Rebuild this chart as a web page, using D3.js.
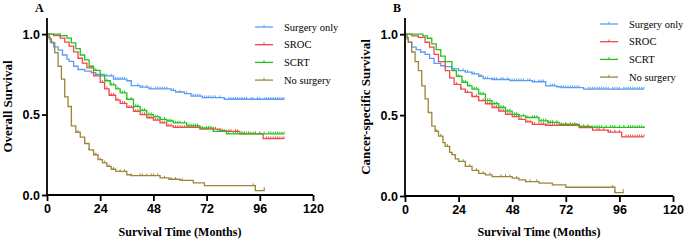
<!DOCTYPE html>
<html>
<head>
<meta charset="utf-8">
<script src="https://cdn.jsdelivr.net/npm/d3@7"></script>
<style>
  body { margin: 0; background: #fff; }
  svg { display: block; }
</style>
</head>
<body>
<div id="chart"></div>
<script>
// Kaplan-Meier knots [month, survival]
const groups = ["Surgery only", "SROC", "SCRT", "No surgery"];
const colors = ["#5a9cf5", "#f24848", "#22c320", "#9b8638"];
const xTicks = [0, 24, 48, 72, 96, 120];
const yTicks = [0.0, 0.5, 1.0];

// Panel A: overall survival
const osSurgery = [[0,1],[0.5,0.98],[1.5,0.95],[3,0.92],[5,0.9],[7,0.87],[9,0.845],[10,0.83],[12,0.8],[14,0.78],[17,0.77],[20,0.76],[22,0.75],[26,0.74],[30,0.72],[36,0.71],[38,0.68],[42,0.67],[46,0.66],[56,0.65],[58,0.64],[62,0.63],[65,0.615],[70,0.605],[80,0.595],[107,0.595]];
const osSroc = [[0,1],[3,0.99],[6,0.975],[8,0.95],[10,0.925],[12,0.89],[14,0.85],[16,0.82],[18,0.79],[21,0.74],[24,0.70],[26,0.66],[28,0.62],[31,0.59],[33,0.57],[36,0.545],[39,0.52],[42,0.5],[45,0.48],[48,0.465],[51,0.448],[54,0.43],[57,0.42],[69,0.41],[78,0.4],[81,0.395],[87,0.38],[97.5,0.35],[107,0.35]];
const osScrt = [[0,1],[6,0.99],[9,0.975],[11,0.945],[13,0.91],[15,0.87],[17,0.84],[19,0.8],[21,0.775],[24,0.74],[26,0.71],[28.5,0.685],[31,0.66],[33,0.635],[36,0.595],[39,0.55],[42,0.525],[45,0.5],[48,0.485],[51,0.47],[54,0.46],[57,0.448],[63,0.43],[69,0.415],[75,0.395],[81,0.38],[107,0.38]];
const osNone = [[0,1],[1,0.97],[2,0.945],[3.5,0.885],[5,0.8],[6.5,0.72],[8,0.61],[9.5,0.55],[11,0.43],[13,0.39],[15,0.36],[17,0.32],[19,0.28],[21,0.25],[23,0.22],[25,0.2],[27,0.178],[29,0.16],[31,0.147],[36,0.126],[38,0.12],[51,0.106],[55,0.098],[60,0.091],[66,0.075],[71,0.058],[94,0.027],[98,0.035]];

const osSurgeryCens = [27,29,31,32,33,34,35,41,43,45,47,49,50,51,52,53,54,57,60,63,66,67,68,69,71,72,73,74,75,76,78,82,83,84,85,86,87,88,89,90,92,93,95,96,98,99,100,101,102,103,104,105,106,107];
const osSrocCens = [20,22,25,27,29,30,32,34,35,37,38,40,41,43,44,46,47,49,50,52,53,55,56,58,59,60,61,62,63,64,65,66,67,68,70,71,72,73,75,76,78,79,82,83,85,86,88,89,90,91,93,94,96,99,100,101,102,103,104,105,106,107];
const osScrtCens = [22,24,26,27,29,30,32,34,35,36,38,40,41,43,44,46,47,49,50,51,53,54,55,56,58,59,60,62,63,64,65,66,67,68,70,72,73,74,77,79,80,82,84,85,86,88,89,91,92,94,96,98,100,101,102,103,104,105,106,107];
const osNoneCens = [14,17,19,22,24,26,28,30,33,35,38,42,43,45,47,48,50,53,56,58,61,93,94,98];

// Panel B: cancer-specific survival
const cssSurgery = [[0,1],[0.5,0.98],[1.5,0.95],[3,0.92],[5,0.905],[7,0.89],[9,0.875],[11,0.85],[13,0.82],[16,0.805],[18,0.8],[21,0.785],[24,0.775],[27,0.765],[30,0.755],[33,0.74],[35,0.725],[39,0.72],[47,0.713],[57,0.706],[63,0.68],[68,0.675],[70,0.67],[80,0.661],[107,0.661]];
const cssSroc = [[0,1],[3,0.99],[6,0.98],[9,0.95],[11,0.92],[13,0.875],[15,0.83],[18,0.775],[20,0.73],[22,0.69],[25,0.66],[27,0.64],[30,0.615],[33,0.59],[36,0.57],[39,0.547],[42,0.525],[45,0.505],[48,0.49],[51,0.474],[54,0.458],[57,0.443],[63,0.437],[78,0.422],[84,0.407],[91,0.395],[97,0.366],[107,0.366]];
const cssScrt = [[0,1],[8,0.99],[10,0.975],[12,0.94],[14,0.905],[16,0.865],[18,0.83],[21,0.775],[23,0.74],[25.5,0.703],[28,0.68],[30,0.661],[33,0.63],[36,0.59],[39,0.57],[42,0.547],[45,0.525],[48,0.505],[51,0.495],[54,0.485],[60,0.464],[64,0.455],[69,0.443],[78,0.43],[84,0.424],[107,0.42]];
const cssNone = [[0,1],[1,0.97],[1.5,0.95],[3,0.89],[4.5,0.83],[6,0.775],[7.5,0.68],[9,0.6],[10.4,0.516],[12,0.432],[13.5,0.4],[15,0.37],[17,0.33],[18,0.307],[20,0.27],[21,0.256],[22.5,0.23],[24,0.214],[27,0.183],[30,0.158],[33,0.14],[36,0.131],[39,0.12],[48,0.11],[51,0.1],[54,0.089],[60,0.08],[66,0.069],[72,0.054],[94,0.021],[97.7,0.03]];

const cssSurgeryCens = [24,26,28,30,31,33,34,36,37,39,40,41,43,44,46,48,49,50,51,52,53,55,56,58,60,61,62,65,66,67,70,71,72,73,74,75,76,77,78,82,83,84,85,86,87,88,89,90,91,93,94,95,96,98,99,100,101,102,103,104,105,106,107];
const cssSrocCens = [20,23,25,27,28,30,32,33,35,37,38,40,41,43,44,46,47,49,50,52,54,55,56,58,60,61,62,63,64,65,66,67,68,70,71,72,73,75,76,77,79,81,82,84,86,87,89,91,92,94,96,99,100,101,102,103,104,105,106,107];
const cssScrtCens = [22,24,26,27,29,31,32,34,35,37,38,40,41,43,44,46,47,49,50,51,53,54,55,57,58,59,61,62,63,64,65,66,68,70,72,74,76,78,80,82,85,86,87,88,90,92,93,94,96,98,100,101,102,103,104,105,106,107];
const cssNoneCens = [14,16,19,21,24,26,29,32,35,38,43,45,47,50,54,56,59,93,94,97.7];

const panels = [
  { letter: "A", yTitle: "Overall Survival", x0: 47, x1: 313, yTop: 18, yBottom: 195,
    curves: [osSurgery, osSroc, osScrt, osNone],
    cens: [osSurgeryCens, osSrocCens, osScrtCens, osNoneCens],
    legendX: 255, legendY: 27 },
  { letter: "B", yTitle: "Cancer-specific Survival", x0: 405, x1: 673, yTop: 18, yBottom: 196,
    curves: [cssSurgery, cssSroc, cssScrt, cssNone],
    cens: [cssSurgeryCens, cssSrocCens, cssScrtCens, cssNoneCens],
    legendX: 600, legendY: 24 }
];

const width = 685, height = 243;
const svg = d3.select("#chart").append("svg")
  .attr("width", width)
  .attr("height", height);

// value of the step function at time t
function survAt(knots, t) {
  let s = knots[0][1];
  for (const k of knots) {
    if (k[0] <= t) s = k[1];
  }
  return s;
}

panels.forEach(p => {
  const x = d3.scaleLinear().domain([0, 120]).range([p.x0, p.x1]);
  const y = d3.scaleLinear().domain([0, 1.1]).range([p.yBottom, p.yTop]);
  const g = svg.append("g");

  // curves
  p.curves.forEach((knots, i) => {
    const line = d3.line().x(d => x(d[0])).y(d => y(d[1])).curve(d3.curveStepAfter);
    g.append("path")
      .attr("d", line(knots))
      .attr("fill", "none")
      .attr("stroke", colors[i])
      .attr("stroke-width", 1.3);
    g.append("g")
      .selectAll("line")
      .data(p.cens[i])
      .join("line")
      .attr("x1", d => x(d)).attr("x2", d => x(d))
      .attr("y1", d => y(survAt(knots, d)) - 2.2)
      .attr("y2", d => y(survAt(knots, d)))
      .attr("stroke", colors[i])
      .attr("stroke-width", 1);
  });

  // axes
  const xAxis = g.append("g")
    .attr("transform", `translate(0,${y(0)})`)
    .call(d3.axisBottom(x).tickValues(xTicks).tickSize(6).tickPadding(3).tickFormat(d3.format("d")));
  const yAxis = g.append("g")
    .attr("transform", `translate(${p.x0},0)`)
    .call(d3.axisLeft(y).tickValues(yTicks).tickSize(5).tickPadding(2).tickFormat(d3.format(".1f")));
  [xAxis, yAxis].forEach(a => {
    a.select(".domain").attr("stroke", "#000").attr("stroke-width", 1.8);
    a.selectAll(".tick line").attr("stroke", "#000").attr("stroke-width", 1.8);
    a.selectAll(".tick text")
      .attr("fill", "#000")
      .style("font-family", "'Liberation Sans', Arial, sans-serif")
      .style("font-weight", "bold")
      .style("font-size", "12.5px");
  });
  // y axis extends up to 1.1, no outer tick
  yAxis.select(".domain").attr("d", `M0,${y(1.1)}V${y(0)}`);
  xAxis.select(".domain").attr("d", `M${p.x0},0H${p.x1}`);

  // titles
  svg.append("text")
    .attr("x", (p.x0 + p.x1) / 2)
    .attr("y", 236)
    .attr("text-anchor", "middle")
    .style("font-family", "'Liberation Serif', 'Times New Roman', serif")
    .style("font-weight", "bold")
    .style("font-size", "12px")
    .text("Survival Time (Months)");
  svg.append("text")
    .attr("transform", `translate(${p.x0 - 35},${(p.yTop + p.yBottom) / 2}) rotate(-90)`)
    .attr("text-anchor", "middle")
    .style("font-family", "'Liberation Serif', 'Times New Roman', serif")
    .style("font-weight", "bold")
    .style("font-size", "13px")
    .text(p.yTitle);
  svg.append("text")
    .attr("x", p.x0 - 12)
    .attr("y", 12)
    .style("font-family", "'Liberation Serif', 'Times New Roman', serif")
    .style("font-weight", "bold")
    .style("font-size", "12px")
    .text(p.letter);

  // legend
  const leg = svg.append("g")
    .selectAll("g")
    .data(groups)
    .join("g")
    .attr("transform", (d, i) => `translate(${p.legendX},${p.legendY + i * 17.7})`);
  leg.append("line")
    .attr("x1", 0).attr("x2", 18)
    .attr("stroke", (d, i) => colors[i])
    .attr("stroke-width", 1.3);
  leg.append("line")
    .attr("x1", 9).attr("x2", 9).attr("y1", -2.2).attr("y2", 0)
    .attr("stroke", (d, i) => colors[i]);
  leg.append("text")
    .attr("x", 29)
    .attr("y", 3.5)
    .style("font-family", "'Liberation Serif', 'Times New Roman', serif")
    .style("font-size", "10.5px")
    .text(d => d);
});
</script>
</body>
</html>
